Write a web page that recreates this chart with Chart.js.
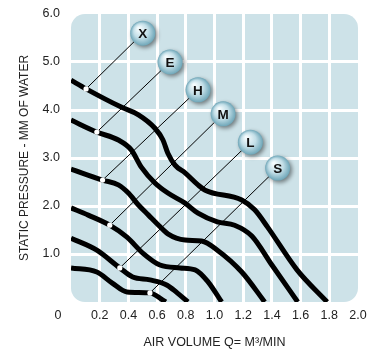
<!DOCTYPE html>
<html><head><meta charset="utf-8">
<script src="https://cdn.jsdelivr.net/npm/chart.js@4.4.0/dist/chart.umd.min.js"></script>
<style>html,body{margin:0;padding:0;background:#fff;}#wrap{width:379px;height:352px;}</style>
</head><body><div id="wrap"><canvas id="c" width="379" height="352"></canvas></div>
<script>
// Curve data (air volume in m3/min vs static pressure in mm of water)
const curveNames = ['X', 'E', 'H', 'M', 'L', 'S'];
const xCurveX = [0, 0.105, 0.35, 0.47, 0.585, 0.64, 0.675, 0.725, 0.795, 0.885, 0.935, 1.19, 1.28, 1.37, 1.575, 1.785];
const yCurveX = [4.62, 4.44, 4.06, 3.9, 3.62, 3.38, 3.1, 2.85, 2.69, 2.44, 2.33, 2.125, 1.92, 1.56, 0.67, 0];
const xCurveE = [0, 0.18, 0.33, 0.42, 0.49, 0.585, 0.675, 0.795, 0.885, 1.02, 1.14, 1.26, 1.40, 1.58];
const yCurveE = [3.79, 3.54, 3.375, 3.17, 2.81, 2.48, 2.27, 2.06, 1.85, 1.67, 1.6, 1.375, 0.77, 0];
const xCurveH = [0, 0.22, 0.33, 0.40, 0.47, 0.54, 0.61, 0.675, 0.795, 0.91, 1.02, 1.19, 1.35];
const yCurveH = [2.77, 2.54, 2.44, 2.27, 2.02, 1.81, 1.6, 1.42, 1.29, 1.27, 1.08, 0.625, 0];
const xCurveM = [0, 0.12, 0.27, 0.39, 0.5, 0.62, 0.76, 0.865, 0.955, 1.05];
const yCurveM = [1.96, 1.81, 1.6, 1.35, 1.02, 0.77, 0.71, 0.67, 0.42, 0];
const xCurveL = [0, 0.18, 0.34, 0.43, 0.55, 0.67, 0.74, 0.815];
const yCurveL = [1.33, 1.08, 0.71, 0.52, 0.46, 0.35, 0.19, 0];
const xCurveS = [0, 0.18, 0.285, 0.39, 0.55, 0.64, 0.66];
const yCurveS = [0.71, 0.625, 0.4, 0.21, 0.19, 0.04, 0];

// Marker dots on curves and label bubble positions
const dotX = [0.105, 0.18, 0.22, 0.27, 0.34, 0.55];
const dotY = [4.44, 3.54, 2.54, 1.6, 0.71, 0.19];
const tagX = [0.50, 0.69, 0.885, 1.06, 1.25, 1.44];
const tagY = [5.6, 5.0, 4.42, 3.92, 3.33, 2.79];

// Axis ticks
const xTickValues = [0.2, 0.4, 0.6, 0.8, 1.0, 1.2, 1.4, 1.6, 1.8, 2.0];
const yTickValues = [1, 2, 3, 4, 5, 6];
const originLabel = '0';
const xTitle = 'AIR VOLUME Q= M\u00B3/MIN';
const yTitle = 'STATIC PRESSURE - MM OF WATER';

const curvesX = [xCurveX, xCurveE, xCurveH, xCurveM, xCurveL, xCurveS];
const curvesY = [yCurveX, yCurveE, yCurveH, yCurveM, yCurveL, yCurveS];

const FONT = "'Liberation Sans', Arial, Helvetica, sans-serif";
const TXT = '#222';

const toPts = (xs, ys) => xs.map((x, i) => ({x, y: ys[i]}));

const datasets = [];
datasets.push({
  label: 'dots', data: toPts(dotX, dotY), showLine: false,
  pointRadius: 2.6, pointBackgroundColor: '#fff', pointBorderWidth: 0, pointBorderColor: '#fff', clip: false
});
curveNames.forEach((n, i) => {
  datasets.push({
    label: 'leader ' + n,
    data: [{x: dotX[i], y: dotY[i]}, {x: tagX[i], y: tagY[i]}],
    borderColor: '#000', borderWidth: 1, pointRadius: 0, tension: 0, clip: false
  });
});
curveNames.forEach((n, i) => {
  datasets.push({
    label: n, data: toPts(curvesX[i], curvesY[i]),
    borderColor: '#000', borderWidth: 5, pointRadius: 0,
    cubicInterpolationMode: 'monotone', borderCapStyle: 'butt', borderJoinStyle: 'round', clip: 0
  });
});

const bgPlugin = {
  id: 'bg',
  beforeDraw(chart) {
    const {ctx, chartArea: a} = chart;
    ctx.save();
    ctx.fillStyle = '#cde2e8';
    ctx.beginPath();
    ctx.roundRect(a.left, a.top, a.right - a.left, a.bottom - a.top, 14);
    ctx.fill();
    ctx.restore();
  }
};

const tagPlugin = {
  id: 'tags',
  afterDraw(chart) {
    const {ctx, chartArea: a, scales: {x, y}} = chart;
    ctx.save();
    // origin label
    ctx.fillStyle = TXT;
    ctx.font = '12.5px ' + FONT;
    ctx.textAlign = 'center';
    ctx.textBaseline = 'middle';
    ctx.fillText(originLabel, a.left - 13, a.bottom + 14);
    // bubbles
    curveNames.forEach((n, i) => {
      const px = x.getPixelForValue(tagX[i]);
      const py = y.getPixelForValue(tagY[i]);
      const r = 12.5;
      ctx.save();
      ctx.shadowColor = 'rgba(0,0,0,0.45)';
      ctx.shadowBlur = 4;
      ctx.shadowOffsetX = 2;
      ctx.shadowOffsetY = 2;
      const g = ctx.createRadialGradient(px - 4, py - 5, 1, px, py, r);
      g.addColorStop(0, '#f4fbfd');
      g.addColorStop(0.55, '#c2dee7');
      g.addColorStop(1, '#6ea6b8');
      ctx.fillStyle = g;
      ctx.beginPath();
      ctx.arc(px, py, r, 0, Math.PI * 2);
      ctx.fill();
      ctx.restore();
      ctx.fillStyle = '#111';
      ctx.font = 'bold 13.5px ' + FONT;
      ctx.textAlign = 'center';
      ctx.textBaseline = 'middle';
      ctx.fillText(n, px, py + 1);
    });
    ctx.restore();
  }
};

new Chart(document.getElementById('c'), {
  type: 'line',
  data: {datasets},
  options: {
    responsive: false, animation: false, devicePixelRatio: 1,
    layout: {padding: {top: 14, right: 21, left: 0, bottom: 0}},
    plugins: {legend: {display: false}, tooltip: {enabled: false}},
    scales: {
      x: {
        type: 'linear', min: 0, max: 2,
        afterBuildTicks: s => { s.ticks = xTickValues.map(v => ({value: v})); },
        afterFit: s => { s.height = 50; s.paddingLeft = 0; s.paddingRight = 0; },
        border: {display: false},
        grid: {
          drawTicks: false, lineWidth: 3,
          color: c => (c.tick && Math.abs(c.tick.value - 2) < 1e-6) ? 'rgba(0,0,0,0)' : '#ffffff'
        },
        ticks: {
          padding: 6, color: TXT, font: {family: FONT, size: 12.5},
          maxRotation: 0, autoSkip: false,
          callback: v => Number(v).toFixed(1)
        },
        title: {display: true, text: xTitle, color: TXT, font: {family: FONT, size: 12.5}, padding: {top: 0, bottom: 2}}
      },
      y: {
        type: 'linear', min: 0, max: 6,
        afterBuildTicks: s => { s.ticks = yTickValues.map(v => ({value: v})); },
        afterFit: s => { s.width = 71; s.paddingTop = 0; s.paddingBottom = 0; },
        border: {display: false},
        grid: {
          drawTicks: false, lineWidth: 3,
          color: c => (c.tick && Math.abs(c.tick.value - 6) < 1e-6) ? 'rgba(0,0,0,0)' : '#ffffff'
        },
        ticks: {
          padding: 11, color: TXT, font: {family: FONT, size: 12.5},
          callback: v => Number(v).toFixed(1)
        },
        title: {display: true, text: yTitle, color: TXT, font: {family: FONT, size: 12}, padding: {top: 17, bottom: 0}}
      }
    }
  },
  plugins: [bgPlugin, tagPlugin]
});
</script>
</body></html>
